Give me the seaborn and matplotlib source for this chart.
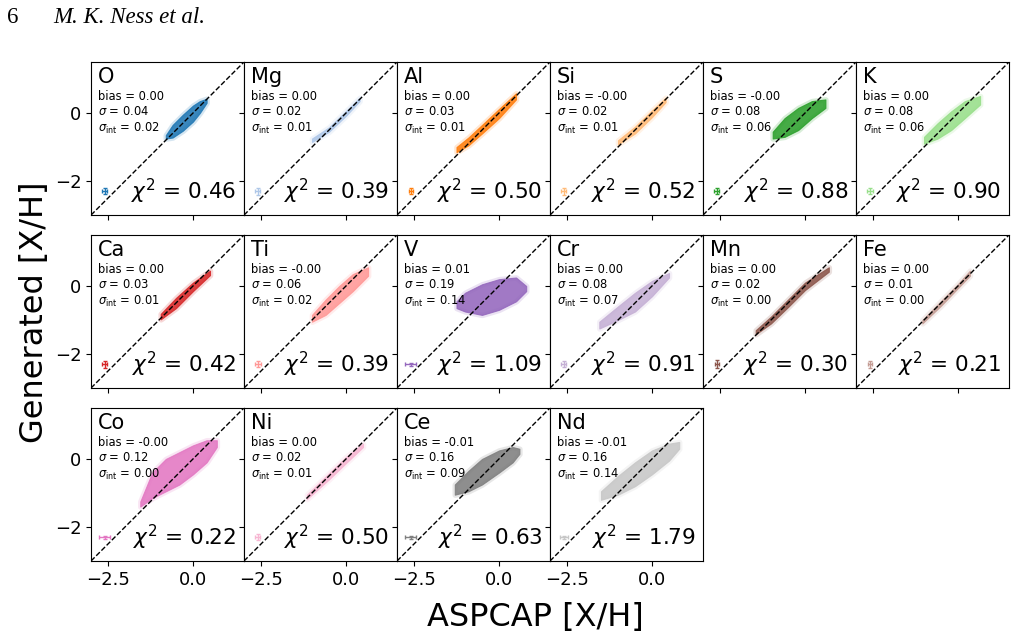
import matplotlib
matplotlib.use("Agg")
import matplotlib.pyplot as plt
import seaborn as sns

# per-element summary numbers printed in each panel
elements = ['O', 'Mg', 'Al', 'Si', 'S', 'K', 'Ca', 'Ti', 'V', 'Cr', 'Mn', 'Fe', 'Co', 'Ni', 'Ce', 'Nd']
bias = [0.00, 0.00, 0.00, -0.0, -0.0, 0.00, 0.00, -0.0, 0.01, 0.00, 0.00, 0.00, -0.0, 0.00, -0.01, -0.01]
sigma = [0.04, 0.02, 0.03, 0.02, 0.08, 0.08, 0.03, 0.06, 0.19, 0.08, 0.02, 0.01, 0.12, 0.02, 0.16, 0.16]
sigma_int = [0.02, 0.01, 0.01, 0.01, 0.06, 0.06, 0.01, 0.02, 0.14, 0.07, 0.00, 0.00, 0.00, 0.01, 0.09, 0.14]
chi2 = [0.46, 0.39, 0.50, 0.52, 0.88, 0.90, 0.42, 0.39, 1.09, 0.91, 0.30, 0.21, 0.22, 0.50, 0.63, 1.79]

# typical errors (x = ASPCAP, y = generated), shown as the cross in the corner
err_x = [0.07, 0.08, 0.06, 0.07, 0.08, 0.09, 0.07, 0.09, 0.16, 0.08, 0.06, 0.06, 0.16, 0.07, 0.15, 0.12]
err_y = [0.09, 0.10, 0.09, 0.10, 0.09, 0.09, 0.10, 0.09, 0.05, 0.09, 0.11, 0.10, 0.04, 0.09, 0.04, 0.04]
err_pos = (-2.6, -2.3)

# outline of each scatter cloud: x, lower y, upper y
cloud_x = {
    'O':  [-0.8, -0.6, -0.3, 0.0, 0.2, 0.4],
    'Mg': [-1.0, -0.5, 0.0, 0.4],
    'Al': [-1.25, -0.9, -0.5, 0.0, 0.5],
    'Si': [-1.0, -0.5, 0.0, 0.4],
    'S':  [-0.95, -0.6, -0.2, 0.2, 0.6],
    'K':  [-1.0, -0.6, -0.2, 0.2, 0.65],
    'Ca': [-0.95, -0.5, 0.0, 0.5],
    'Ti': [-1.0, -0.6, -0.2, 0.2, 0.65],
    'V':  [-1.25, -1.0, -0.5, 0.0, 0.5, 0.8],
    'Cr': [-1.55, -1.0, -0.5, 0.0, 0.5],
    'Mn': [-1.45, -1.0, -0.5, 0.0, 0.7],
    'Fe': [-1.05, -0.5, 0.0, 0.35],
    'Co': [-1.55, -1.2, -0.8, -0.4, 0.0, 0.4, 0.7],
    'Ni': [-1.15, -0.5, 0.0, 0.5],
    'Ce': [-1.3, -0.9, -0.5, 0.0, 0.4, 0.6],
    'Nd': [-1.5, -1.0, -0.5, 0.0, 0.5, 0.8],
}
cloud_lo = {
    'O':  [-0.75, -0.72, -0.52, -0.25, 0.0, 0.3],
    'Mg': [-0.85, -0.55, -0.08, 0.35],
    'Al': [-1.15, -0.95, -0.6, -0.15, 0.4],
    'Si': [-0.92, -0.6, -0.12, 0.32],
    'S':  [-0.75, -0.7, -0.5, -0.15, 0.15],
    'K':  [-0.9, -0.75, -0.5, -0.15, 0.25],
    'Ca': [-0.98, -0.65, -0.15, 0.32],
    'Ti': [-1.05, -0.85, -0.5, -0.15, 0.3],
    'V':  [-0.65, -0.75, -0.85, -0.7, -0.45, -0.15],
    'Cr': [-1.25, -1.0, -0.75, -0.3, 0.25],
    'Mn': [-1.42, -1.1, -0.62, -0.12, 0.42],
    'Fe': [-1.1, -0.58, -0.06, 0.3],
    'Co': [-1.4, -1.15, -0.95, -0.75, -0.45, -0.1, 0.35],
    'Ni': [-1.18, -0.6, -0.12, 0.35],
    'Ce': [-1.05, -0.95, -0.75, -0.4, -0.1, 0.15],
    'Nd': [-1.2, -1.05, -0.8, -0.45, -0.05, 0.3],
}
cloud_hi = {
    'O':  [-0.65, -0.35, -0.05, 0.22, 0.35, 0.42],
    'Mg': [-0.75, -0.42, 0.06, 0.45],
    'Al': [-1.0, -0.72, -0.35, 0.12, 0.58],
    'Si': [-0.8, -0.4, 0.08, 0.45],
    'S':  [-0.55, -0.15, 0.15, 0.35, 0.4],
    'K':  [-0.7, -0.3, 0.05, 0.35, 0.5],
    'Ca': [-0.82, -0.35, 0.1, 0.45],
    'Ti': [-0.85, -0.4, 0.0, 0.35, 0.55],
    'V':  [-0.45, -0.2, 0.05, 0.2, 0.25, 0.0],
    'Cr': [-1.05, -0.6, -0.2, 0.15, 0.38],
    'Mn': [-1.3, -0.9, -0.4, 0.1, 0.55],
    'Fe': [-1.0, -0.44, 0.06, 0.45],
    'Co': [-1.25, -0.4, 0.0, 0.2, 0.4, 0.55, 0.55],
    'Ni': [-1.05, -0.42, 0.06, 0.45],
    'Ce': [-0.75, -0.35, 0.0, 0.25, 0.35, 0.3],
    'Nd': [-0.95, -0.5, -0.1, 0.25, 0.45, 0.5],
}

sns.set_style("ticks")
plt.rcParams['font.family'] = ['DejaVu Sans']
plt.rcParams['text.color'] = 'black'
plt.rcParams['axes.labelcolor'] = 'black'
plt.rcParams['axes.edgecolor'] = 'black'
plt.rcParams['xtick.color'] = 'black'
plt.rcParams['ytick.color'] = 'black'
colors = sns.color_palette("tab20", 16)

fig, axes = plt.subplots(3, 6, figsize=(10.17, 6.37), dpi=100, sharex=True, sharey=True)
fig.subplots_adjust(left=91/1017, right=1009/1017, top=1-62/637, bottom=1-561/637,
                    wspace=0, hspace=0.13)

lims = (-3, 1.5)
for i, ax in enumerate(axes.flat):
    if i >= len(elements):
        ax.remove()
        continue
    el = elements[i]
    c = colors[i]
    ax.fill_between(cloud_x[el], cloud_lo[el], cloud_hi[el], color=c, alpha=0.18,
                    lw=4, edgecolor=c)
    ax.fill_between(cloud_x[el], cloud_lo[el], cloud_hi[el], color=c, alpha=0.85,
                    lw=0.8, edgecolor=c)
    ax.axline((0, 0), slope=1, color='black', ls='--', lw=1)
    ax.errorbar(err_pos[0], err_pos[1], xerr=err_x[i], yerr=err_y[i], fmt='none',
                ecolor=c, elinewidth=1, capsize=1.5, capthick=1)
    ax.text(0.045, 0.965, el, transform=ax.transAxes, fontsize=15, va='top', ha='left')
    ax.text(0.045, 0.815,
            f'bias = {bias[i]:.2f}\n$\\sigma$ = {sigma[i]:.2f}\n$\\sigma_{{\\rm int}}$ = {sigma_int[i]:.2f}',
            transform=ax.transAxes, fontsize=8.3, va='top', ha='left', linespacing=1.2)
    ax.text(0.95, 0.06, f'$\\chi^2$ = {chi2[i]:.2f}', transform=ax.transAxes,
            fontsize=15.5, va='bottom', ha='right')
    ax.set_xlim(lims)
    ax.set_ylim(lims)
    ax.set_xticks([-2.5, 0.0])
    ax.set_yticks([-2, 0])
    ax.tick_params(labelsize=13, length=3.5, width=0.8)
    for s in ax.spines.values():
        s.set_linewidth(0.8)

# bottom row only has four panels, so show x labels on those
for ax in axes[2, :4]:
    ax.xaxis.set_tick_params(labelbottom=True)
for ax in axes[1, 4:]:
    ax.xaxis.set_tick_params(labelbottom=False)

fig.text(0.526, 0.03, 'ASPCAP [X/H]', fontsize=23, ha='center', va='center')
fig.text(0.034, 0.51, 'Generated [X/H]', fontsize=23, ha='center', va='center', rotation=90)

fig.text(7/1017, 1-23/637, '6', family='Liberation Serif', fontsize=16.5, va='baseline')
fig.text(53/1017, 1-23/637, 'M. K. Ness et al.', family='Liberation Serif', style='italic',
         fontsize=16.5, va='baseline')

fig.savefig('out.png', dpi=100)
